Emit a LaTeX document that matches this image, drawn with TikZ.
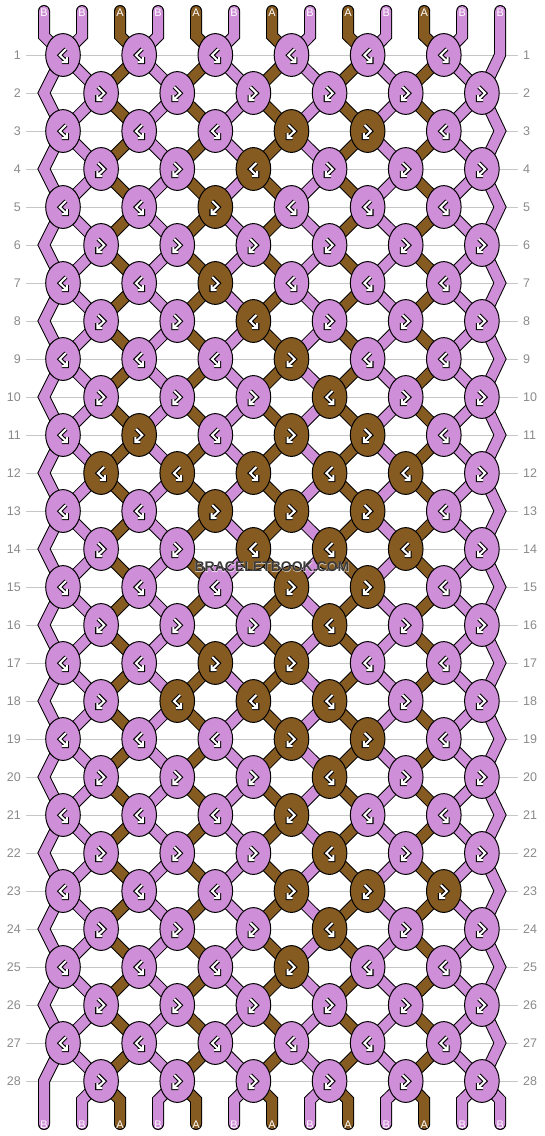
\documentclass[tikz,border=0pt]{standalone}
\usepackage{fontspec}
\setmainfont{Liberation Sans}
\newfontfamily\wmhalo{Liberation Sans Bold}[FakeBold=3]
\usetikzlibrary{shapes.geometric}
\definecolor{lil}{HTML}{CF8FD8}
\definecolor{brn}{HTML}{865B22}
\definecolor{numgray}{HTML}{8A8A8A}
\definecolor{gridgray}{HTML}{C6C6C6}
\definecolor{wmtext}{HTML}{3A3A3A}
\newcommand\brownknot[2]{\expandafter\gdef\csname brk@#1@#2\endcsname{}}
\brownknot{3}{7}\brownknot{3}{9}
\brownknot{4}{6}
\brownknot{5}{5}
\brownknot{7}{5}
\brownknot{8}{6}
\brownknot{9}{7}
\brownknot{10}{8}
\brownknot{11}{3}\brownknot{11}{7}\brownknot{11}{9}
\brownknot{12}{2}\brownknot{12}{4}\brownknot{12}{6}\brownknot{12}{8}\brownknot{12}{10}
\brownknot{13}{5}\brownknot{13}{7}\brownknot{13}{9}
\brownknot{14}{6}\brownknot{14}{8}\brownknot{14}{10}
\brownknot{15}{7}\brownknot{15}{9}
\brownknot{16}{8}
\brownknot{17}{5}\brownknot{17}{7}
\brownknot{18}{4}\brownknot{18}{6}\brownknot{18}{8}
\brownknot{19}{7}\brownknot{19}{9}
\brownknot{20}{8}
\brownknot{21}{7}
\brownknot{22}{8}
\brownknot{23}{7}\brownknot{23}{9}\brownknot{23}{11}
\brownknot{24}{8}
\brownknot{25}{7}
\newcommand\strandpath[1]{({xs(#1)},11) -- ({xs(#1)},36)
    \foreach \r in {1,...,28}{ -- ({kx(#1,\r)},{ry(\r)}) }
    -- ({xs(#1)},1100) -- ({xs(#1)},1124)}
\begin{document}
\begin{tikzpicture}[x=1pt,y=-1pt,
  declare function={xs(\j)=44+38.02*(\j-1);
    sL(\j,\r)=\j-mod(\j+\r,2);
    kx(\j,\r)=ifthenelse(sL(\j,\r)==0,44,ifthenelse(sL(\j,\r)==13,500,63+38.08*(sL(\j,\r)-1)));
    ry(\r)=55+38*(\r-1);},
  threadout/.style={black,line width=12pt,line join=miter,line cap=round},
  threadin/.style={line width=10pt,line join=miter,line cap=round},
  knot/.style={ellipse,draw=black,line width=1pt,minimum width=34.6pt,minimum height=42.8pt,inner sep=0pt},
  lab/.style={text=white,inner sep=0pt,font=\fontsize{11}{11}\selectfont},
  num/.style={text=numgray,inner sep=0pt,font=\fontsize{12.5}{12.5}\selectfont},
  icb/.style={black,line width=4.2pt,line join=miter,line cap=square},
  icw/.style={white,line width=2pt,line join=miter,line cap=square},
  bfic/.pic={\draw[icb] (3,-6)--(-3.2,0.2)--(3.8,7) (-1.2,7)--(3.8,7)--(3.8,2);
             \draw[icw] (3,-6)--(-3.2,0.2)--(3.8,7) (-1.2,7)--(3.8,7)--(3.8,2);},
  fbic/.pic={\draw[icb] (-3,-6)--(3.2,0.2)--(-3.8,7) (1.2,7)--(-3.8,7)--(-3.8,2);
             \draw[icw] (-3,-6)--(3.2,0.2)--(-3.8,7) (1.2,7)--(-3.8,7)--(-3.8,2);},
  wmfont/.style={font=\fontsize{14}{14}\selectfont\bfseries,inner sep=0pt}
]
\useasboundingbox (0,0) rectangle (544,1136);
\fill[white] (0,0) rectangle (544,1136);
% row guide lines and numbers
\foreach \r in {1,...,28}{
  \draw[gridgray,line width=1pt] (26,{ry(\r)}) -- (518,{ry(\r)});
  \node[num,anchor=east] (ln-\r) at (21,{ry(\r)}) {\r};
  \node[num,anchor=west] (rn-\r) at (523,{ry(\r)}) {\r};
}
% threads: outlines, then colours
\foreach \j in {1,...,13}{
  \draw[threadout] \strandpath{\j};
}
\foreach \j/\c/\t in {1/lil/B,2/lil/B,3/brn/A,4/lil/B,5/brn/A,6/lil/B,7/brn/A,8/lil/B,9/brn/A,10/lil/B,11/brn/A,12/lil/B,13/lil/B}{
  \draw[threadin,\c] \strandpath{\j};
  \node[lab] (top-\j) at ({xs(\j)},12.5) {\t};
  \node[lab] (bot-\j) at ({xs(\j)},1124.5) {\t};
}
% knots
\foreach \r in {1,...,28}{
  \pgfmathtruncatemacro\rpar{mod(\r,2)}
  \ifnum\rpar=1 \def\Llist{1,3,5,7,9,11}\else\def\Llist{2,4,6,8,10,12}\fi
  \foreach \L in \Llist {
    \pgfmathsetmacro\kxx{63+38.08*(\L-1)}
    \pgfmathsetmacro\kyy{55+38*(\r-1)}
    \ifcsname brk@\r @\L\endcsname
      \node[knot,fill=brn] (k-\r-\L) at (\kxx,\kyy) {};
      \ifnum\rpar=1 \pic at (\kxx,\kyy) {fbic};\else \pic at (\kxx,\kyy) {bfic};\fi
    \else
      \node[knot,fill=lil] (k-\r-\L) at (\kxx,\kyy) {};
      \ifnum\rpar=1 \pic at (\kxx,\kyy) {bfic};\else \pic at (\kxx,\kyy) {fbic};\fi
    \fi
  }
}
% watermark
\node[inner sep=0pt,font=\fontsize{14}{14}\wmhalo,text=white,opacity=0.5] (wmh) at (272,567) {BRACELETBOOK.COM};
\node[wmfont,text=wmtext] (wm) at (272,567) {BRACELETBOOK.COM};
\end{tikzpicture}
\end{document}
